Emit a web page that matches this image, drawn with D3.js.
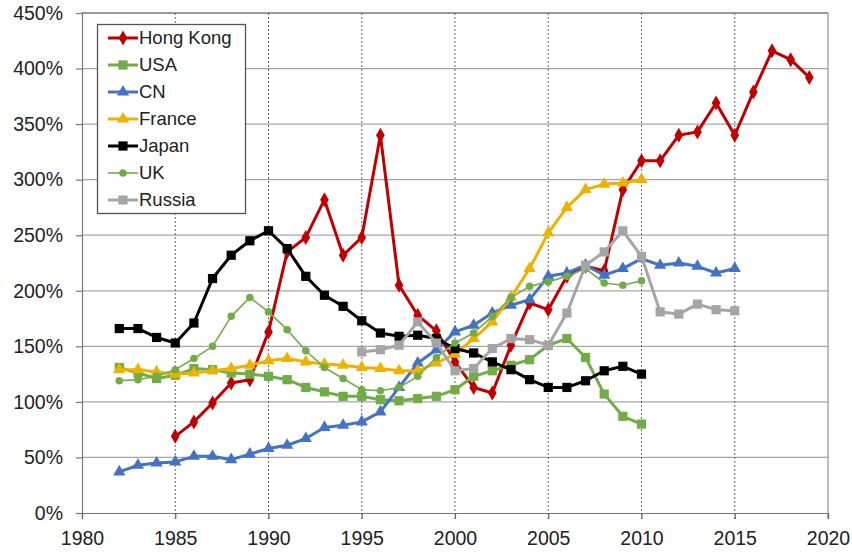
<!DOCTYPE html>
<html>
<head>
<meta charset="utf-8">
<script src="https://cdn.jsdelivr.net/npm/d3@7"></script>
<style>
  body { margin: 0; background: #fff; }
  svg text { font-family: "Liberation Sans", Arial, sans-serif; fill: #222; }
</style>
</head>
<body>
<svg id="chart" width="852" height="552"></svg>
<script>
// data, values in %
const yearTicks = [1980, 1985, 1990, 1995, 2000, 2005, 2010, 2015, 2020];
const pctTicks = [0, 50, 100, 150, 200, 250, 300, 350, 400, 450];

const hongKongYears = d3.range(1985, 2020);
const hongKong = [69, 82, 99, 117, 120, 163, 235, 248, 282, 232, 248, 340, 205, 178, 164,
  136, 113, 108, 151, 189, 183, 213, 222, 218, 291, 317, 317, 340, 343, 369, 340, 379, 416, 408, 392];

const years8210 = d3.range(1982, 2011);
const usa = [131, 126, 121, 124, 130, 129, 126, 125, 123, 120, 113, 109, 105, 105, 102, 101,
  103, 105, 111, 123, 128, 133, 138, 151, 157, 140, 107, 87, 80];
const france = [129, 129, 127, 125, 126, 128, 130, 133, 137, 139, 136, 134, 133, 131, 130, 128,
  128, 135, 143, 157, 172, 194, 220, 252, 275, 291, 296, 297, 300];
const japan = [166, 166, 158, 153, 171, 211, 232, 245, 254, 238, 213, 196, 186, 173, 162, 159,
  160, 157, 148, 144, 136, 129, 120, 113, 113, 119, 128, 132, 125];
const uk = [119, 120, 123, 129, 139, 150, 177, 194, 181, 165, 146, 131, 121, 111, 110, 113,
  123, 140, 153, 162, 177, 194, 204, 208, 213, 220, 207, 205, 209];

const cnYears = d3.range(1982, 2016);
const cn = [37, 43, 45, 46, 51, 51, 48, 53, 58, 61, 67, 77, 79, 82, 91, 113, 135, 147,
  163, 169, 180, 187, 192, 213, 216, 223, 214, 220, 229, 223, 225, 222, 216, 220];

const russiaYears = d3.range(1995, 2016);
const russia = [145, 147, 151, 172, 153, 128, 130, 148, 157, 156, 151, 180, 223, 235, 254,
  231, 181, 179, 188, 183, 182];

const seriesNames = ["Hong Kong", "USA", "CN", "France", "Japan", "UK", "Russia"];
const seriesYears = [hongKongYears, years8210, cnYears, years8210, years8210, years8210, russiaYears];
const seriesValues = [hongKong, usa, cn, france, japan, uk, russia];

const colors = ["#C00000", "#70AD47", "#4472C4", "#EDB200", "#000000", "#70AD47", "#A5A5A5"];
const markers = ["diamond", "square", "triangle", "triangle", "square", "circle", "square"];
const widths = [3, 3, 3, 3, 3, 1.6, 3];

let svg = d3.select("#chart");

const x = d3.scaleLinear().domain([1980, 2020]).range([82, 828]);
const y = d3.scaleLinear().domain([0, 450]).range([513, 13]);

// grid
svg.append("g")
    .selectAll("line")
    .data(pctTicks.slice(1))
    .join("line")
    .attr("x1", x(1980)).attr("x2", x(2020))
    .attr("y1", d => y(d)).attr("y2", d => y(d))
    .attr("stroke", d => d == 450 ? "#777" : "#a6a6a6")
    .attr("stroke-width", 1.3);

svg.append("g")
    .selectAll("line")
    .data(yearTicks.slice(1, -1))
    .join("line")
    .attr("x1", d => x(d)).attr("x2", d => x(d))
    .attr("y1", y(450)).attr("y2", y(0) + 6)
    .attr("stroke", "#666")
    .attr("stroke-width", 1)
    .attr("stroke-dasharray", "2,2");

// right border
svg.append("line")
    .attr("x1", x(2020)).attr("x2", x(2020))
    .attr("y1", y(450)).attr("y2", y(0) + 6)
    .attr("stroke", "#999").attr("stroke-width", 1.3);

// axes
let yAxis = svg.append("g")
    .attr("transform", `translate(${x(1980)},0)`)
    .call(d3.axisLeft(y).tickValues(pctTicks).tickFormat(d => d + "%").tickSize(6).tickPadding(13));
yAxis.selectAll("text").style("font-size", "19.5px");
yAxis.selectAll("line,path").attr("stroke", "#777").attr("stroke-width", 1.2);

let xAxis = svg.append("g")
    .attr("transform", `translate(0,${y(0)})`)
    .call(d3.axisBottom(x).tickValues(yearTicks).tickFormat(d3.format("d")).tickSize(6).tickPadding(12));
xAxis.selectAll("text").style("font-size", "19.5px");
xAxis.selectAll("line,path").attr("stroke", "#777").attr("stroke-width", 1.2);
xAxis.selectAll(".tick line").attr("stroke", "#666").attr("stroke-dasharray", null);

function symbolFor(kind) {
    if (kind == "diamond") return d3.symbol().type(d3.symbolDiamond).size(65);
    if (kind == "square") return d3.symbol().type(d3.symbolSquare).size(85);
    if (kind == "triangle") return d3.symbol().type(d3.symbolTriangle).size(65);
    return d3.symbol().type(d3.symbolCircle).size(45);
}

const line = d3.line().x(d => x(d[0])).y(d => y(d[1]));

seriesNames.forEach((name, i) => {
    let pts = seriesYears[i].map((yr, j) => [yr, seriesValues[i][j]]);
    let g = svg.append("g");
    g.append("path")
        .datum(pts)
        .attr("d", line)
        .attr("fill", "none")
        .attr("stroke", colors[i])
        .attr("stroke-width", widths[i])
        .attr("stroke-linejoin", "round");
    g.selectAll("path.mk")
        .data(pts)
        .join("path")
        .attr("class", "mk")
        .attr("d", symbolFor(markers[i]))
        .attr("transform", d => `translate(${x(d[0])},${y(d[1])})`)
        .attr("fill", colors[i]);
});

// legend
let legend = svg.append("g");
legend.append("rect")
    .attr("x", 97.5).attr("y", 24.5)
    .attr("width", 148).attr("height", 189)
    .attr("fill", "#fff")
    .attr("stroke", "#555").attr("stroke-width", 1.3);

seriesNames.forEach((name, i) => {
    let ly = 38 + i * 27;
    legend.append("line")
        .attr("x1", 108).attr("x2", 138)
        .attr("y1", ly).attr("y2", ly)
        .attr("stroke", colors[i]).attr("stroke-width", widths[i]);
    legend.append("path")
        .attr("d", symbolFor(markers[i]))
        .attr("transform", `translate(123,${ly})`)
        .attr("fill", colors[i]);
    legend.append("text")
        .attr("x", 139).attr("y", ly)
        .attr("dy", "0.35em")
        .style("font-size", "18.5px")
        .text(name);
});
</script>
</body>
</html>
